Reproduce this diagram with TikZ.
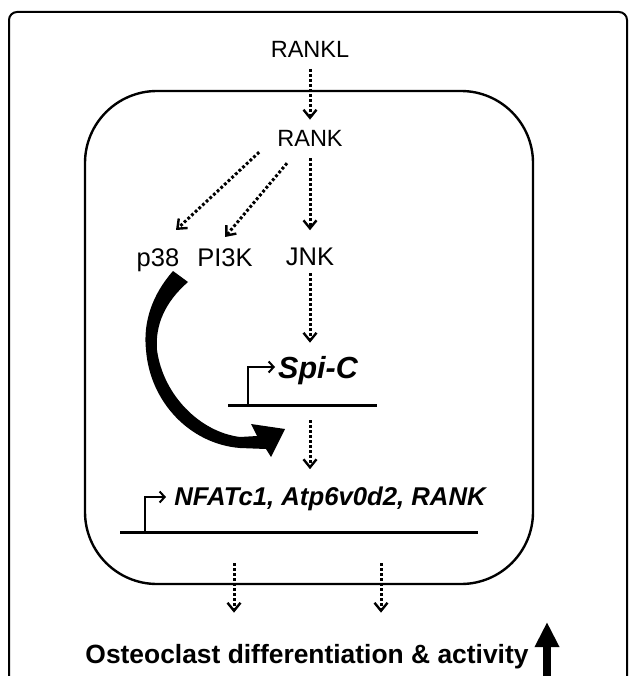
\documentclass[tikz,border=0pt]{standalone}
\usepackage{fontspec}
\setmainfont{Liberation Sans}
\usetikzlibrary{arrows.meta,calc}
\begin{document}
\begin{tikzpicture}[x=1pt,y=-1pt,
  lbl/.style={inner sep=0pt, anchor=base, font=\fontsize{23.5}{27}\selectfont},
  kin/.style={inner sep=0pt, anchor=base, font=\fontsize{25.5}{30}\selectfont},
  genetxt/.style={inner sep=0pt, anchor=base, font=\fontsize{#1}{#1}\selectfont\bfseries\itshape},
  dotarrow/.style={line width=3pt, dash pattern=on 2.8pt off 2.2pt, -{Straight Barb[length=8pt,width=13pt,line width=2.4pt]}},
  prom/.style={line width=2.4pt, -{Straight Barb[length=5pt,width=11pt,line width=2pt]}},
  dna/.style={line width=3pt},
  frame/.style={line width=2pt},
]
\useasboundingbox (0,0) rectangle (630,676);

% outer frame (open at the bottom)
\draw[frame, rounded corners=8pt] (9,676) -- (9,12) -- (627,12) -- (627,676);

% cell
\draw[line width=2.4pt, rounded corners=72pt] (85,91) rectangle (533,584);

% text nodes
\node[lbl] (rankl) at (310,58) {RANKL};
\node[lbl] (rank) at (310,147) {RANK};
\node[kin] (p38) at (158,266) {p38};
\node[kin] (pi3k) at (225,266) {PI3K};
\node[kin] (jnk) at (310,265) {JNK};
\node[genetxt=30.5] (spic) at (318,378) {Spi-C};
\node[genetxt=25.7] (nfat) at (330,505) {NFATc1, Atp6v0d2, RANK};
\node[inner sep=0pt, anchor=base, font=\fontsize{26.4}{30}\selectfont\bfseries] (osteo) at (307,663) {Osteoclast differentiation \& activity};

% genes
\coordinate (spiline) at (310,405);
\coordinate (nfatline) at (310,532);
\draw[dna] (228,405) -- (377,405);
\draw[dna] (120,532) -- (478,532);
\draw[prom] (248,405) |- (275,367);
\draw[prom] (145,532) |- (166,497);

% dotted signalling arrows
\draw[dotarrow] ($(rankl.base)+(0,11)$) -- ($(rank.north)+(0,-11)$);
\draw[dotarrow] ($(rank.south west)+(-18,5)$) -- ($(p38.north)+(18,-18)$);
\draw[dotarrow] ($(rank.south)+(-23,16)$) -- ($(pi3k.north)+(0,-11)$);
\draw[dotarrow] ($(rank.south)+(0,11)$) -- ($(jnk.north)+(0,-17)$);
\draw[dotarrow] ($(jnk.south)+(0,8)$) -- ($(jnk.south |- spic.north)+(0,-13)$);
\draw[dotarrow] ($(spiline)+(0,15)$) -- ($(spiline |- nfat.north)+(0,-17)$);
\coordinate (outL) at (234,563);
\coordinate (outR) at (381,563);
\draw[dotarrow] (outL) -- ($(outL |- osteo.north)+(0,-31)$);
\draw[dotarrow] (outR) -- ($(outR |- osteo.north)+(0,-31)$);

% big curved arrow from p38/PI3K to target genes
\fill (173,271) .. controls (152,295) and (143,322) .. (146,350)
  .. controls (150,402) and (190,444) .. (240,448) -- (266,449) -- (271,457)
  -- (285,429) -- (251,424) -- (257,436) -- (240,437)
  .. controls (200,432) and (163,395) .. (157,350)
  .. controls (155,325) and (165,302) .. (188,282) -- cycle;

% up arrow
\coordinate (upB) at (547,676);
\coordinate (upT) at (547,622);
\draw[line width=8pt, -{Triangle[length=25pt,width=23pt]}] (upB) -- (upT);
\end{tikzpicture}
\end{document}
